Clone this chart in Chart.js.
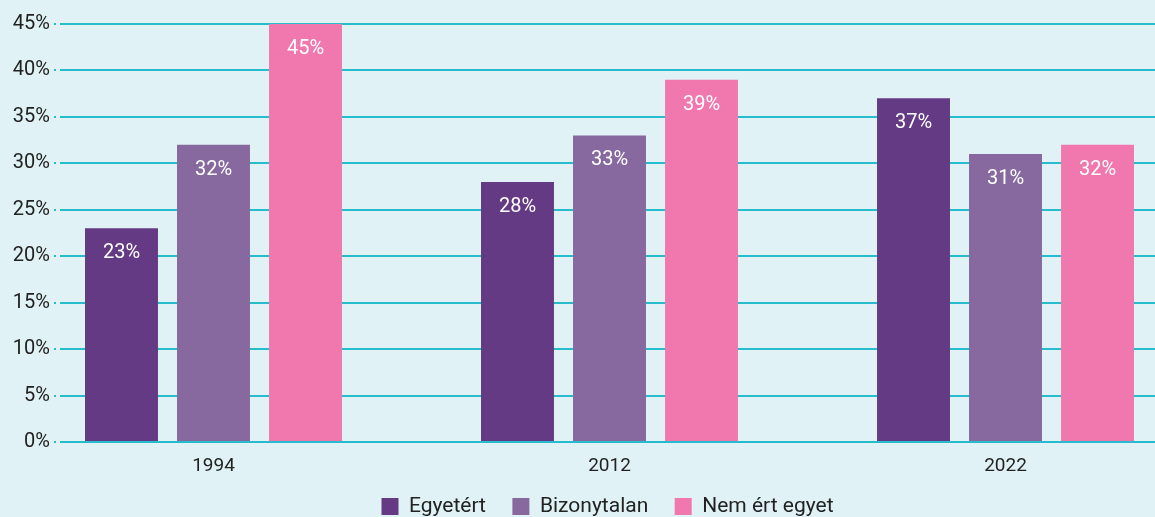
<!DOCTYPE html>
<html><head><meta charset="utf-8">
<script src="https://cdn.jsdelivr.net/npm/chart.js@4"></script>
<style>html,body{margin:0;padding:0;background:#e0f2f5;}#wrap{width:1155px;height:517px;}</style>
</head><body><div id="wrap"><canvas id="c" width="1155" height="517"></canvas></div>
<script>
const years = ['1994', '2012', '2022'];
const seriesNames = ['Egyetért', 'Bizonytalan', 'Nem ért egyet'];
const egyetert = [23, 28, 37];
const bizonytalan = [32, 33, 31];
const nemErtEgyet = [45, 39, 32];
const yTicks = [0, 5, 10, 15, 20, 25, 30, 35, 40, 45];
const colors = ['#653a84', '#8769a0', '#f178ae'];

const FONT = 'Roboto, "DejaVu Sans", sans-serif';
const toPts = arr => arr.map((v, i) => ({x: i, y: v}));

const labelPlugin = {
  id: 'barLabels',
  afterDatasetsDraw(chart) {
    const ctx = chart.ctx;
    ctx.save();
    ctx.fillStyle = '#ffffff';
    ctx.font = '20px ' + FONT;
    ctx.textAlign = 'center';
    ctx.textBaseline = 'middle';
    chart.data.datasets.forEach((ds, di) => {
      chart.getDatasetMeta(di).data.forEach((bar, i) => {
        ctx.fillText(ds.data[i].y + '%', bar.x, bar.y + 25);
      });
    });
    ctx.restore();
  }
};

new Chart(document.getElementById('c'), {
  type: 'bar',
  data: {
    datasets: [
      {label: seriesNames[0], data: toPts(egyetert), backgroundColor: colors[0]},
      {label: seriesNames[1], data: toPts(bizonytalan), backgroundColor: colors[1]},
      {label: seriesNames[2], data: toPts(nemErtEgyet), backgroundColor: colors[2]}
    ]
  },
  options: {
    responsive: false,
    animation: false,
    layout: {padding: {top: 24, right: 0, left: 0, bottom: -10}},
    datasets: {bar: {categoryPercentage: 0.697, barPercentage: 0.793}},
    plugins: {
      legend: {
        position: 'bottom',
        fullSize: false,
        labels: {
          boxWidth: 17, boxHeight: 17, padding: 16, color: '#222', font: {family: FONT, size: 21},
          generateLabels: chart => {
            const items = Chart.defaults.plugins.legend.labels.generateLabels(chart);
            items.forEach((it, i) => { if (i < items.length - 1) it.text = it.text + '  '; });
            return items;
          }
        }
      },
      tooltip: {enabled: false}
    },
    scales: {
      x: {
        type: 'linear',
        min: -0.3876, max: 2.3775,
        offset: false,
        grid: {display: false, drawTicks: false},
        border: {display: false},
        afterBuildTicks: s => { s.ticks = years.map((_, i) => ({value: i})); },
        afterFit: s => { s.height = 38; },
        ticks: {padding: 13, color: '#222', font: {family: FONT, size: 19}, callback: v => years[v]}
      },
      y: {
        min: 0, max: 45,
        afterBuildTicks: s => { s.ticks = yTicks.map(v => ({value: v})); },
        afterFit: s => { s.width = 60; },
        grid: {color: '#27bccc', lineWidth: 2, tickLength: 6, tickColor: '#27bccc', tickBorderDash: [2, 4]},
        border: {display: false},
        ticks: {padding: 4, color: '#222', font: {family: FONT, size: 20}, callback: v => v + '%'}
      }
    }
  },
  plugins: [labelPlugin]
});
</script></body></html>
